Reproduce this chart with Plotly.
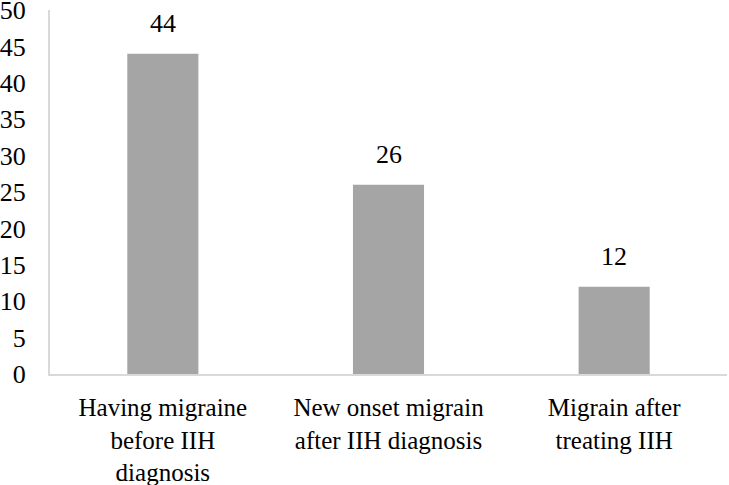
import plotly.graph_objects as go

categories = ["Having migraine<br>before IIH<br>diagnosis",
              "New onset migrain<br>after IIH diagnosis",
              "Migrain after<br>treating IIH"]
values = [44, 26, 12]
y_ticks = [0, 5, 10, 15, 20, 25, 30, 35, 40, 45, 50]

FONT = "Liberation Serif"
xs = list(range(len(categories)))

fig = go.Figure()
fig.add_trace(go.Bar(x=xs, y=values, width=0.315, marker_color="#A5A5A5",
                     marker_line_width=0, hoverinfo="skip"))

for xv, v in zip(xs, values):
    fig.add_annotation(x=xv, y=v, text=str(v), showarrow=False,
                       yanchor="bottom", yshift=14,
                       font=dict(family=FONT, size=26, color="#000000"))

fig.update_layout(
    width=729, height=485,
    margin=dict(l=50, r=2, t=10, b=111),
    paper_bgcolor="white", plot_bgcolor="white",
    showlegend=False,
    font=dict(family=FONT, size=26, color="#000000"),
)
fig.update_xaxes(
    range=[-0.5, 2.5], tickvals=xs, ticktext=categories,
    showline=True, linecolor="#D9D9D9", linewidth=2,
    showgrid=False, zeroline=False, automargin=False,
    ticks="outside", ticklen=10, tickcolor="rgba(0,0,0,0)",
    tickfont=dict(family=FONT, size=25), ticklabeloverflow="allow",
)
fig.update_yaxes(
    range=[0, 50], tickvals=y_ticks,
    showline=True, linecolor="#D9D9D9", linewidth=2,
    showgrid=False, zeroline=False, automargin=False,
    ticks="outside", ticklen=17, tickcolor="rgba(0,0,0,0)",
    tickfont=dict(family=FONT, size=26), ticklabeloverflow="allow",
)

fig.write_html("out.html", config={"displayModeBar": False},
               post_script="document.body.style.margin='0';document.body.style.overflow='hidden';")
